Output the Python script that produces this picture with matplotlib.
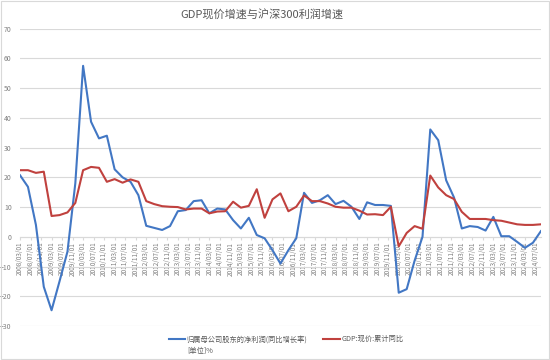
import matplotlib
matplotlib.use("Agg")
import matplotlib.pyplot as plt
import matplotlib.dates as mdates
from matplotlib.patches import Rectangle
import pandas as pd

plt.rcParams['font.family'] = ['Noto Sans CJK SC', 'DejaVu Sans']

# quarterly observations, 2008/03 .. 2024/09
dates = pd.date_range('2008-03-01', periods=67, freq='3MS')

profit_yoy = [
    20.7, 16.8, 4.0, -16.8,
    -24.7, -15.0, -5.0, 18.0,
    57.5, 38.7, 33.1, 34.0,
    22.7, 20.0, 18.5, 14.0,
    3.7, 3.0, 2.3, 3.6,
    8.6, 9.0, 12.0, 12.3,
    7.9, 9.5, 9.2, 5.6,
    2.8, 6.4, 0.6, -0.5,
    -4.5, -9.0, -4.5, -0.5,
    14.8, 11.4, 12.3, 14.0,
    11.0, 12.1, 10.1, 6.0,
    11.6, 10.7, 10.7, 10.4,
    -18.8, -17.6, -8.0, 0.0,
    36.1, 32.5, 19.0, 13.2,
    2.8, 3.6, 3.3, 2.1,
    6.7, 0.2, 0.2, -1.7,
    -3.7, -2.0, 1.9,
]

gdp_yoy = [
    22.4, 22.4, 21.5, 21.9,
    7.0, 7.3, 8.2, 11.4,
    22.4, 23.5, 23.2, 18.5,
    19.4, 18.2, 19.3, 18.5,
    12.0, 11.0, 10.3, 10.1,
    10.0, 9.2, 9.5, 9.5,
    7.9, 8.5, 8.6, 11.8,
    9.8, 10.4, 16.0, 6.4,
    12.6, 14.6, 8.6, 10.1,
    13.9, 12.0, 12.0, 11.2,
    10.1, 9.8, 9.8, 8.8,
    7.5, 7.6, 7.3, 10.1,
    -3.2, 1.3, 3.6, 2.7,
    20.6, 16.6, 14.0, 12.7,
    8.4, 6.0, 6.0, 6.0,
    5.6, 5.4, 4.8, 4.2,
    4.0, 4.0, 4.2,
]

tick_dates = pd.date_range('2008-03-01', '2024-07-01', freq='4MS')
y_ticks = list(range(-30, 71, 10))

title = 'GDP现价增速与沪深300利润增速'
label_profit = '归属母公司股东的净利润(同比增长率)'
label_profit_unit = '[单位]%'
label_gdp = 'GDP:现价:累计同比'

grid_c = '#d9d9d9'
text_c = '#7f7f7f'

fig = plt.figure(figsize=(5.5, 3.6), dpi=100)
fig.patches.append(Rectangle((0.001, 0.002), 0.997, 0.995, transform=fig.transFigure,
                             fill=False, edgecolor=grid_c, lw=0.8))
ax = fig.add_axes([0.0364, 0.0944, 0.947, 0.826])

ax.plot(dates, profit_yoy, color='#4277c4', lw=1.5, label=label_profit, zorder=3)
ax.plot(dates, gdp_yoy, color='#c0413e', lw=1.5, label=label_gdp, zorder=4)

ax.set_ylim(-30, 70)
ax.set_yticks(y_ticks)
ax.set_xlim(dates[0], dates[-1])
ax.set_xticks(tick_dates)
ax.xaxis.set_major_formatter(mdates.DateFormatter('%Y/%m/%d'))

ax.grid(axis='y', color=grid_c, lw=0.8)
ax.set_axisbelow(True)
for s in ['left', 'right', 'top']:
    ax.spines[s].set_visible(False)
ax.spines['bottom'].set_position(('data', 0))
ax.spines['bottom'].set_color(grid_c)

ax.tick_params(axis='y', length=0, labelsize=5, labelcolor=text_c, pad=6)
ax.tick_params(axis='x', length=2.5, color=grid_c, labelsize=4.6,
               labelcolor=text_c, labelrotation=90, pad=1)

fig.text(0.476, 0.958, title, ha='center', va='center', fontsize=8, color='#595959')

fig.legend(loc='center', bbox_to_anchor=(0.52, 0.058), ncol=2, frameon=False,
           fontsize=5.2, labelcolor='#595959', handlelength=2.3, handletextpad=0.2,
           columnspacing=2.2)
# unit line wraps under the first legend entry
fig.text(0.341, 0.025, label_profit_unit, ha='left', va='center', fontsize=5.2,
         color='#595959')

fig.savefig('out.png', dpi=100)
